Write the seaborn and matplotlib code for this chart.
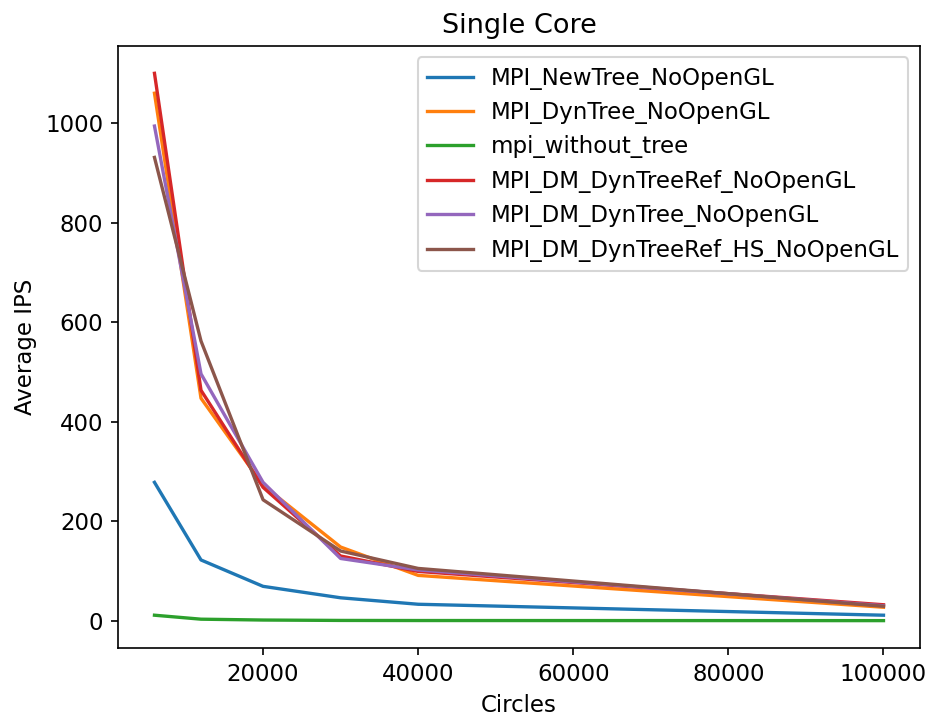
import pandas as pd
import matplotlib
matplotlib.use("Agg")
import matplotlib.pyplot as plt
import seaborn as sns

# Values
circles = [6000, 12000, 20000, 30000, 40000, 100000]

mpi_newtree = [278, 122, 69, 46, 33, 11]
mpi_dyntree = [1060, 447, 272, 148, 91, 27]
mpi_without_tree = [11, 3, 1.3, 0.5, 0.3, 0.1]
mpi_dm_dyntreeref = [1100, 463, 268, 130, 99, 32]
mpi_dm_dyntree = [994, 496, 278, 125, 102, 30]
mpi_dm_dyntreeref_hs = [931, 562, 243, 140, 105, 29]

series = {
    "MPI_NewTree_NoOpenGL": mpi_newtree,
    "MPI_DynTree_NoOpenGL": mpi_dyntree,
    "mpi_without_tree": mpi_without_tree,
    "MPI_DM_DynTreeRef_NoOpenGL": mpi_dm_dyntreeref,
    "MPI_DM_DynTree_NoOpenGL": mpi_dm_dyntree,
    "MPI_DM_DynTreeRef_HS_NoOpenGL": mpi_dm_dyntreeref_hs,
}

rows = []
for name, vals in series.items():
    for c, v in zip(circles, vals):
        rows.append({"Circles": c, "Average IPS": v, "version": name})
df = pd.DataFrame(rows)

plt.rcParams["font.size"] = 11
fig = plt.figure(figsize=(933 / 150, 718 / 150), dpi=150)
ax = fig.add_axes([0.1265, 0.0975, 0.8595, 0.8385])
sns.lineplot(data=df, x="Circles", y="Average IPS", hue="version",
             palette="tab10", linewidth=1.6, ax=ax)
ax.set_title("Single Core", fontsize=13)
ax.legend(loc="upper right")
fig.savefig("out.png", dpi=150)
